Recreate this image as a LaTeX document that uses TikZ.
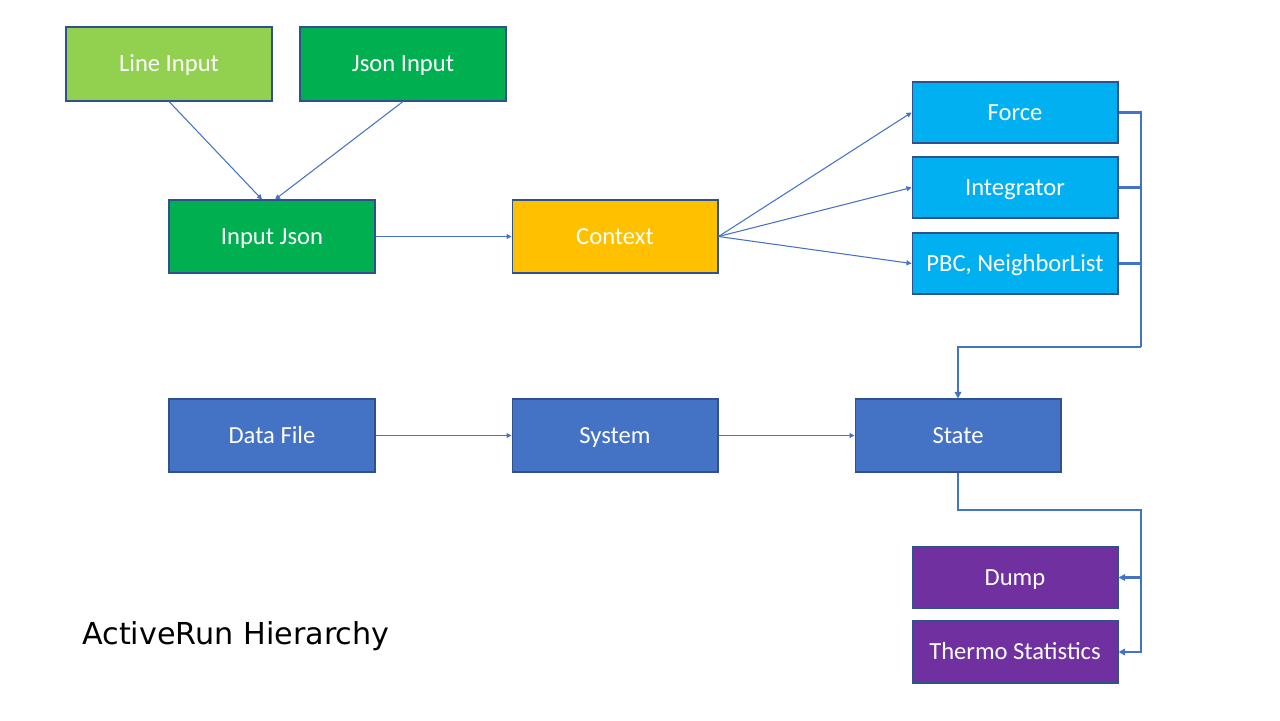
\documentclass[tikz,border=0pt]{standalone}
\usepackage{fontspec}
\setmainfont{Carlito}
\newfontfamily\titlefont{DejaVu Sans}
\usetikzlibrary{arrows.meta}
\definecolor{lgreen}{HTML}{92D050}
\definecolor{dgreen}{HTML}{00B050}
\definecolor{gold}{HTML}{FFC000}
\definecolor{sky}{HTML}{00B0F0}
\definecolor{mblue}{HTML}{4472C4}
\definecolor{purp}{HTML}{7030A0}
\definecolor{edge}{HTML}{2F528F}
\tikzset{
  box/.style={draw=edge, line width=0.6pt, text=white, minimum width=4.12cm, font=\fontsize{14}{16}\selectfont, inner sep=0pt, text height=0.88em, text depth=0pt},
  tall/.style={box, minimum height=1.46cm},
  short/.style={box, minimum height=1.22cm},
  arr/.style={draw=mblue, line width=0.6pt, -{Triangle[length=0.1cm,width=0.1cm]}},
  bus/.style={draw=mblue, line width=1.2pt},
  bigtip/.style={-{Triangle[length=0.13cm,width=0.13cm]}},
}
\begin{document}
\begin{tikzpicture}[x=0.02cm, y=-0.02cm]
\useasboundingbox (0,0) rectangle (1280,720);
\node[tall, fill=lgreen, minimum height=1.48cm] (li) at (169,64) {Line Input};
\node[tall, fill=dgreen, minimum height=1.48cm] (ji) at (403,64) {Json Input};
\node[tall, fill=dgreen] (ij) at (272,236.5) {Input Json};
\node[tall, fill=gold] (ctx) at (615,236.5) {Context};
\node[short, fill=sky] (force) at (1015,112.5) {Force};
\node[short, fill=sky] (integ) at (1015,187.5) {Integrator};
\node[short, fill=sky] (pbc) at (1015,263.5) {PBC, NeighborList};
\node[tall, fill=mblue] (data) at (272,435.5) {Data File};
\node[tall, fill=mblue] (sys) at (615,435.5) {System};
\node[tall, fill=mblue] (state) at (958,435.5) {State};
\node[short, fill=purp] (dump) at (1015,577.5) {Dump};
\node[short, fill=purp, minimum height=1.24cm] (thermo) at (1015,652) {Thermo Statistics};
\node[anchor=west, inner sep=0pt, font=\titlefont\fontsize{17.2}{19}\selectfont] (title) at (82,636) {ActiveRun Hierarchy};

\draw[arr] (li.south) -- ([xshift=-0.2cm]ij.north);
\draw[arr] (ji.south) -- ([xshift=0.06cm]ij.north);
\draw[arr] (ij.east) -- (ctx.west);
\draw[arr] (ctx.east) -- (force.west);
\draw[arr] (ctx.east) -- (integ.west);
\draw[arr] (ctx.east) -- (pbc.west);
\draw[arr] (data.east) -- (sys.west);
\draw[arr] (sys.east) -- (state.west);

\coordinate (jr) at (1141,347);
\draw[bus] (force.east) -| (jr);
\draw[bus] (integ.east) -- (integ.east -| jr);
\draw[bus] (pbc.east) -- (pbc.east -| jr);
\draw[bus, bigtip] (jr) -| (state.north);

\coordinate (jb) at (1141,510);
\draw[bus, bigtip] (state.south) |- (jb) |- (thermo.east);
\draw[bus, bigtip] (dump.east -| jb) -- (dump.east);
\end{tikzpicture}
\end{document}
